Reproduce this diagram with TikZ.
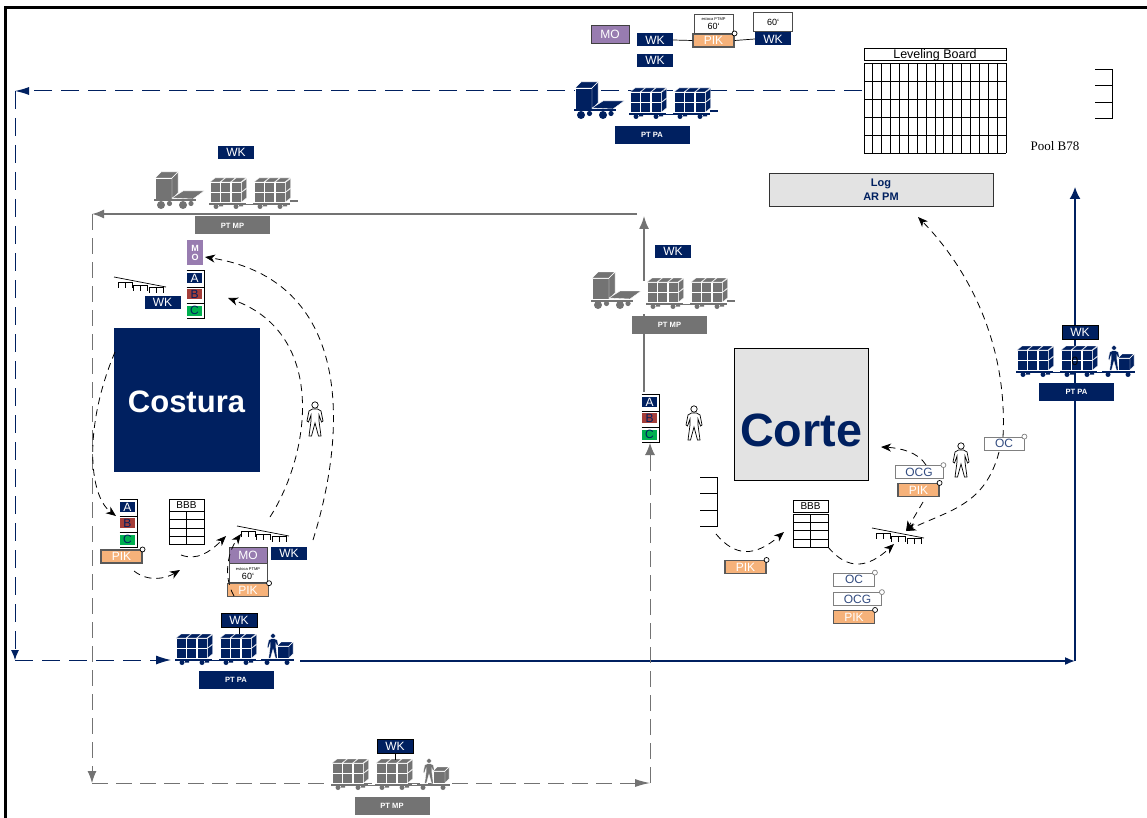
\documentclass[tikz,border=0pt]{standalone}
\usepackage{fontspec}
\setmainfont{Liberation Sans}
\newfontfamily\timesfont{Liberation Serif}
\usepackage{tikz}
\usetikzlibrary{arrows.meta,positioning,calc}
\definecolor{navy}{RGB}{0,32,96}
\definecolor{slate}{RGB}{115,115,115}
\definecolor{peach}{RGB}{246,178,122}
\definecolor{plum}{RGB}{152,124,176}
\definecolor{brick}{RGB}{165,62,58}
\definecolor{leaf}{RGB}{0,176,80}
\definecolor{pale}{RGB}{227,227,227}
\newcommand{\fsz}[1]{\fontsize{#1}{#1}\selectfont}
\newcommand{\abcstack}[3]{%
  \pic at (#2,#3) {abcrules};
  \node[abcb, fill=navy, text=white] (#1a) at (#2,#3) {A};
  \node[abcb, fill=brick, text=navy, below=6pt of #1a] (#1b) {B};
  \node[abcb, fill=leaf, text=navy, below=6pt of #1b] (#1c) {C};
}
\tikzset{
  pics/crates/.style={code={
    \foreach \i in {0,1,2} {
      \foreach \j in {0,1} {
        \fill[#1, draw=white, line width=.4pt] (10.5*\i,-10*\j) rectangle ++(10,-9.5);
      }
      \fill[#1, draw=white, line width=.4pt] (10.5*\i,-20) -- ++(10,0) -- ++(5,-4) -- ++(-10,0) -- cycle;
    }
    \foreach \j in {0,1} {
      \fill[#1, draw=white, line width=.4pt] (31.5,-10*\j) -- ++(5,-4) -- ++(0,-9.5) -- ++(-5,4) -- cycle;
    }
    \draw[#1, line width=1.2pt] (-1,2) -- (36,2);
    \fill[#1] (6,4.5) circle (2.5) (26,4.5) circle (2.5) (9,3) rectangle (13,4.5) (29,3) rectangle (33,4.5);
  }},
  pics/tugtrain/.style={code={
    \fill[#1, draw=white, line width=.4pt] (0,-3) rectangle (17,-24);
    \fill[#1, draw=white, line width=.4pt] (0,-24) -- (17,-24) -- (23,-30) -- (6,-30) -- cycle;
    \fill[#1, draw=white, line width=.4pt] (17,-3) -- (23,-9) -- (23,-30) -- (17,-24) -- cycle;
    \fill[#1, draw=white, line width=.4pt] (17,-4) -- (28,-11) -- (49,-11) -- (38,-3) -- cycle;
    \draw[#1, line width=2pt] (-1,-1.5) -- (41,-1.5);
    \fill[#1] (6,3) circle (4) (28,3) circle (4) (14.5,1.5) circle (2.6) (36,1.5) circle (2.6);
    \pic at (55,0) {crates=#1};
    \pic at (99,0) {crates=#1};
    \draw[#1, line width=.6pt] (91,2) -- (98,2);
    \draw[#1, line width=1.2pt] (135,-1) -- (143,-1);
  }},
  pics/walktrain/.style={code={
    \pic at (0,0) {crates=#1};
    \pic at (44,0) {crates=#1};
    \draw[#1, line width=.6pt] (36,2) -- (43,2) (80,2) -- (85,2);
    \draw[#1, line width=1.2pt] (85,2) -- (118,2);
    \fill[#1] (91,4.5) circle (2.5) (111,4.5) circle (2.5);
    \pic[fill=#1, draw=white, line width=.3pt, scale=.72] at (97,-12) {figure};
    \fill[#1, draw=white, line width=.4pt] (101,0) rectangle (113,-12);
    \fill[#1, draw=white, line width=.4pt] (101,-12) -- (113,-12) -- (117,-16) -- (105,-16) -- cycle;
    \fill[#1, draw=white, line width=.4pt] (113,0) -- (117,-4) -- (117,-16) -- (113,-12) -- cycle;
  }},
  figure/.pic={
    \path[pic actions] (0,-14) circle (3.2);
    \path[pic actions] (-2.5,-10) -- (2.5,-10) -- (6,-8) -- (8,2) -- (6.5,3) -- (4,-4) -- (4,2)
      -- (6,17) -- (3.5,17) -- (0,4) -- (-3.5,17) -- (-6,17) -- (-4,2) -- (-4,-4) -- (-6.5,3)
      -- (-8,2) -- (-6,-8) -- cycle;
  },
  rackshape/.pic={
    \draw[line width=.7pt] (0,0) -- (52,10);
    \foreach \x/\y in {4/5, 19/8, 35/10} {
      \draw[line width=.6pt] (\x,\y) -- ++(14,0)
        (\x,\y) -- ++(0,6) (\x+7,\y) -- ++(0,6) (\x+14,\y) -- ++(0,6);
    }
  },
  shelfshape/.pic={
    \draw[line width=.7pt] (0,0) -- (17,0) -- (17,49) -- (0,49) (0,16) -- (17,16) (0,33) -- (17,33);
  },
  bingrid/.pic={
    \draw[line width=.7pt] (0,0) rectangle (35,33) (17.5,0) -- (17.5,33)
      (0,8) -- (35,8) (0,16.5) -- (35,16.5) (0,25) -- (35,25);
  },
  abcrules/.pic={
    \draw[line width=.7pt] (-8,-8) -- (9.5,-8) -- (9.5,40) -- (-8,40) (-8,9) -- (9.5,9) (-8,25) -- (9.5,25);
  }
}
\begin{document}
\begin{tikzpicture}[
  x=1pt, y=-1pt,
  wkb/.style={fill=navy, text=white, minimum width=36pt, minimum height=13pt, inner sep=0pt, font=\fsz{12}},
  wkbd/.style={wkb, draw=black, line width=.8pt},
  pikb/.style={fill=peach, draw=black!65, line width=1.1pt, text=white, minimum width=41pt, minimum height=13pt, inner sep=0pt, font=\fsz{12}},
  mob/.style={fill=plum, draw=black!75, line width=.8pt, text=white, minimum width=38pt, minimum height=18pt, inner sep=0pt, font=\fsz{12}},
  ocb/.style={fill=white, draw=black!50, line width=.8pt, text=navy!80, minimum height=13pt, inner sep=0pt, font=\fsz{12}},
  cardb/.style={fill=white, draw=black!70, line width=.8pt, minimum width=39pt, minimum height=19pt, inner sep=0pt, align=center, font=\fsz{9}},
  ptb/.style={text=white, minimum width=75pt, minimum height=18pt, inner sep=0pt, font=\fsz{7.6}\bfseries},
  abcb/.style={minimum width=15pt, minimum height=10pt, inner sep=0pt, font=\fsz{12}},
  titleb/.style={draw, line width=.7pt, fill=white, minimum height=12pt, inner sep=0pt},
  ring/.style={fill=white, draw=black, line width=.7pt},
  ringg/.style={fill=white, draw=black!50, line width=.7pt},
  navyflow/.style={navy, line width=1pt, dash pattern=on 18pt off 9pt},
  navyline/.style={navy, line width=1.6pt},
  grayline/.style={slate, line width=1.6pt},
  grayflow/.style={slate, line width=1pt, dash pattern=on 16pt off 8pt},
  curvearr/.style={black, line width=.8pt, dash pattern=on 7pt off 5pt, -{Stealth[length=10pt,width=8pt,inset=3pt]}}
]
\useasboundingbox (0,0) rectangle (1147,818);
\draw[line width=3pt] (5,818) -- (5,8) -- (1147,8);

\coordinate (nstart) at (862,91);
\coordinate (ncorna) at (15,91);
\coordinate (ncornb) at (15,660);
\coordinate (nend) at (171,660);
\coordinate (sstart) at (300,661);
\coordinate (scorn) at (1075,661);
\coordinate (send) at (1075,187);
\coordinate (gup) at (644,392);
\coordinate (gtop) at (644,216);
\coordinate (gleft) at (637,214);
\coordinate (gcorna) at (92,214);
\coordinate (gcornb) at (92,783);
\coordinate (gcornc) at (650,783);
\coordinate (gabc) at (650,443);
\draw[navyflow, -{Latex[length=14pt,width=8pt]}] (nstart) -- (ncorna);
\draw[navyflow, -{Latex[length=10pt,width=8pt]}] (ncorna) -- (ncornb);
\draw[navyflow, -{Latex[length=15pt,width=9pt]}] (ncornb) -- (nend);
\draw[navyline, -{Latex[length=10pt,width=8pt]}] (sstart) -- (scorn);
\draw[navyline, -{Latex[length=12pt,width=11pt]}] (scorn) -- (send);
\draw[grayline, -{Latex[length=13pt,width=10pt]}] (gup) -- (gtop);
\draw[grayline, -{Latex[length=12pt,width=9pt]}] (gleft) -- (gcorna);
\draw[grayflow, -{Latex[length=12pt,width=9pt]}] (gcorna) -- (gcornb);
\draw[grayflow, -{Latex[length=15pt,width=8pt]}] (gcornb) -- (gcornc);
\draw[grayflow, -{Latex[length=12pt,width=10pt]}] (gcornc) -- (gabc);
\fill[white] (642,281) rectangle (646,314);

\node[mob] (motop) at (610,34.5) {MO};
\node[wkb] (wktop) at (655,40) {WK};
\node[wkb, below=7pt of wktop] (wkbelow) {WK};
\node[pikb] (piktop) at (713.5,40.5) {PIK};
\node[cardb, above=0pt of piktop] (cardtop) {{\fsz{4}estoca PTMP}\\60`};
\node[wkb] (wkright) at (773,39) {WK};
\node[cardb, above=0pt of wkright] (cardright) {60`};
\draw[line width=.7pt] (wktop.east) -- (piktop.west);
\draw[line width=.7pt] (piktop.east) -- (wkright.west);
\pic at (575,112) {tugtrain=navy};
\node[ptb, fill=navy] (ptpatop) at (652,135) {PT PA};

\node[titleb, minimum width=142pt, font=\fsz{12.5}] (board) at (935,54.5) {};
\node[font=\fsz{12.5}] (boardtext) at (935,55) {Leveling Board};
\foreach \r in {0,...,5} {\draw[line width=.8pt] (864,63+18*\r) -- (1006,63+18*\r);}
\foreach \c in {0,...,16} {\draw[line width=.8pt] (864+8.875*\c,63) -- (864+8.875*\c,153);}
\pic at (1095,69) {shelfshape};
\node[font=\timesfont\fsz{13}] (pool) at (1055,146) {Pool B78};
\node[fill=pale, draw=black!80, line width=.8pt, minimum width=224pt, minimum height=33pt, inner sep=0pt, align=center, text=navy, font=\fsz{11}\bfseries] (log) at (881,189.5) {Log\\[3.5pt]AR PM};

\node[wkb] (wkgray) at (236,152.5) {WK};
\pic at (155,202) {tugtrain=slate};
\node[ptb, fill=slate] (ptmptop) at (232.5,225.5) {PT MP};
\node[fill=plum, minimum width=16pt, minimum height=25pt, inner sep=0pt, align=center, text=white, font=\fsz{9}\bfseries] (movert) at (195,252.5) {M\\O};
\abcstack{sa}{194.5}{278}
\pic at (114,277) {rackshape};
\node[wkb] (wkrack) at (162.5,302.5) {WK};
\node[fill=navy, minimum width=146pt, minimum height=144pt, inner sep=0pt] (costura) at (187,400) {};
\node[text=white, font=\fsz{31}\bfseries] (costuratext) at (186.5,402) {Costura};
\pic[fill=white, draw=black, line width=.7pt] at (315,419) {figure};

\abcstack{sb}{127.5}{507}
\node[pikb] (pikleft) at (121.5,556.5) {PIK};
\node[titleb, minimum width=35pt, font=\fsz{10}] (bbbleft) at (186.5,505) {BBB};
\pic at (169,511.5) {bingrid};
\pic at (237,526) {rackshape};
\node[mob, fill=plum, minimum height=16pt] (mobottom) at (248,555) {MO};
\node[cardb, minimum width=38pt, below=0pt of mobottom] (cardbottom) {{\fsz{4}estoca PTMP}\\60`};
\node[pikb, below=0pt of cardbottom] (pikbottom) {PIK};
\node[wkb] (wkbottom) at (289,553.5) {WK};

\pic at (176,658) {walktrain=navy};
\node[wkbd, minimum height=14pt] (wkpa) at (239,620) {WK};
\coordinate (wkpafoot) at (239,634);
\draw[line width=.7pt] (wkpa) -- (wkpafoot);
\node[ptb, fill=navy] (ptpaleft) at (236,680) {PT PA};

\pic at (332,783) {walktrain=slate};
\node[wkbd, minimum height=14pt] (wkmp) at (395,746.5) {WK};
\coordinate (wkmpfoot) at (395,760);
\draw[line width=.7pt] (wkmp) -- (wkmpfoot);
\node[ptb, fill=slate] (ptmpbottom) at (392,806) {PT MP};

\node[wkb] (wkmid) at (673,251.5) {WK};
\pic at (592,302) {tugtrain=slate};
\node[ptb, fill=slate] (ptmpmid) at (669.5,325) {PT MP};
\abcstack{sc}{649.5}{402}
\pic[fill=white, draw=black, line width=.7pt] at (694,423) {figure};

\node[fill=pale, draw=black, line width=.8pt, minimum width=134pt, minimum height=132pt, inner sep=0pt] (corte) at (801,414) {};
\node[text=navy, font=\fsz{46.7}\bfseries] (cortetext) at (801,430) {Corte};
\pic at (700,477) {shelfshape};
\node[titleb, minimum width=35pt, font=\fsz{10}] (bbbright) at (810.5,506.5) {BBB};
\pic at (793,514) {bingrid};
\node[pikb] (pikrack) at (745.5,567) {PIK};
\node[ocb, minimum width=41pt] (ocbottom) at (854,579.5) {OC};
\node[ocb, minimum width=48pt] (ocgbottom) at (857.5,599) {OCG};
\node[pikb, minimum width=41pt] (pikrow) at (854,617) {PIK};
\pic at (872,528) {rackshape};
\node[ocb, minimum width=48pt] (ocgtop) at (919,472) {OCG};
\node[pikb] (pikup) at (918.5,490) {PIK};
\pic[fill=white, draw=black, line width=.7pt] at (961,460) {figure};
\node[ocb, minimum width=40pt] (octop) at (1004,443.5) {OC};

\pic at (1017,370) {walktrain=navy};
\node[wkbd, minimum height=14pt] (wkpa2) at (1080,332) {WK};
\node[ptb, fill=navy] (ptparight) at (1076.5,392) {PT PA};
\node[font=\fsz{12}] (zero) at (1075,361) {0};

\foreach \n in {piktop,pikleft,pikbottom,pikrack,pikrow,pikup} {\draw[ring] (\n.north east) circle (2.5);}
\foreach \n in {ocbottom,ocgbottom,ocgtop,octop} {\draw[ringg] (\n.north east) circle (2.5);}

\coordinate (cas) at (115,352);
\coordinate (cae) at (116,516);
\draw[curvearr] (cas) .. controls (84,425) and (88,495) .. (cae);
\coordinate (cbs) at (134,571);
\coordinate (cbe) at (180,570);
\draw[curvearr] (cbs) .. controls (148,582) and (165,579) .. (cbe);
\coordinate (ccs) at (181,555);
\coordinate (cce) at (226,536);
\draw[curvearr] (ccs) .. controls (197,561) and (210,552) .. (cce);
\coordinate (cds) at (234,596);
\coordinate (cde) at (241,534);
\draw[curvearr] (cds) .. controls (222,575) and (229,550) .. (cde);
\coordinate (ces) at (270,517);
\coordinate (cee) at (228,298);
\draw[curvearr] (ces) .. controls (310,455) and (328,335) .. (cee);
\coordinate (cfs) at (313,540);
\coordinate (cfe) at (205,257);
\draw[curvearr] (cfs) .. controls (349,425) and (350,280) .. (cfe);
\coordinate (cgs) at (716,534);
\coordinate (cge) at (784,532);
\draw[curvearr] (cgs) .. controls (735,557) and (755,557) .. (cge);
\coordinate (chs) at (828,547);
\coordinate (che) at (894,544);
\draw[curvearr] (chs) .. controls (848,571) and (868,568) .. (che);
\coordinate (cis) at (923,502);
\coordinate (cie) at (906,531);
\draw[curvearr] (cis) -- (cie);
\coordinate (cjs) at (999,452);
\draw[curvearr] (cjs) .. controls (985,505) and (950,510) .. (cie);
\coordinate (cks) at (1003,437);
\coordinate (cke) at (918,217);
\draw[curvearr] (cks) .. controls (1008,340) and (965,265) .. (cke);
\coordinate (cls) at (926,465);
\coordinate (cle) at (881,447);
\draw[curvearr] (cls) .. controls (918,452) and (900,448) .. (cle);
\end{tikzpicture}
\end{document}
